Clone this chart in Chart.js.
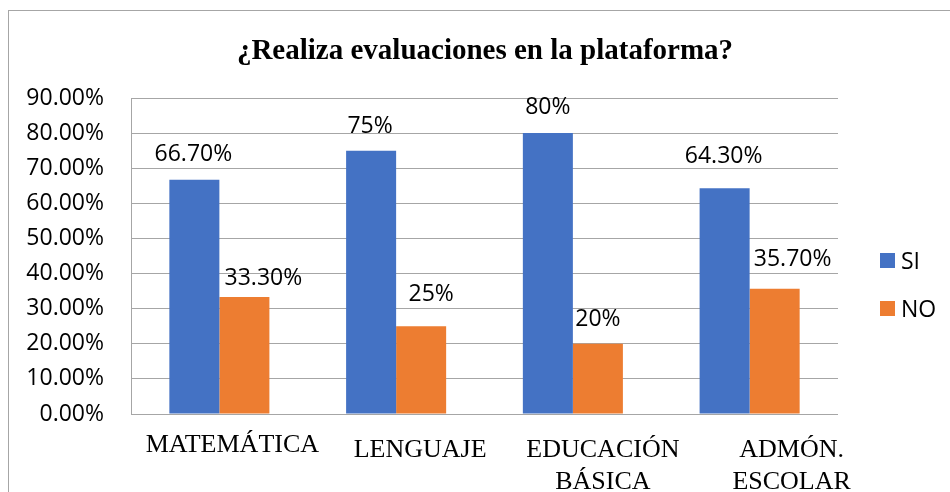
<!DOCTYPE html>
<html>
<head>
<meta charset="utf-8">
<script src="https://cdn.jsdelivr.net/npm/chart.js"></script>
<style>
  html, body { margin: 0; padding: 0; background: #fff; overflow: hidden; }
  #wrap { position: relative; width: 950px; height: 492px; overflow: hidden; }
  #frame { position: absolute; left: 8px; top: 10px; width: 1000px; height: 600px; border: 1px solid #a6a6a6; }
  canvas { position: absolute; left: 0; top: 0; }
</style>
</head>
<body>
<div id="wrap">
  <div id="frame"></div>
  <canvas id="myChart" width="950" height="492"></canvas>
</div>
<script>
let chartTitle = '¿Realiza evaluaciones en la plataforma?'
let categories = [['MATEMÁTICA'], ['LENGUAJE'], ['EDUCACIÓN', 'BÁSICA'], ['ADMÓN.', 'ESCOLAR']]
let seriesNames = ['SI', 'NO']
let siValues = [66.7, 75, 80, 64.3]
let noValues = [33.3, 25, 20, 35.7]
let yTicks = [0, 10, 20, 30, 40, 50, 60, 70, 80, 90]
let colors = ['#4472C4', '#ED7D31']

// label nudges as in the original (x shift, baseline gap above bar)
const labelNudge = [
    [[-1, 19], [-1, 18], [0, 19], [-1, 25]],
    [[19, 12], [10, 25], [0, 18], [18, 23]]
]
const catShift = [13, 24, 30, 42]
const catBase = [38, 43, 43, 43]

function fmt(v) {
    return Number.isInteger(v) ? v + '%' : v.toFixed(2) + '%'
}

const decor = {
    id: 'decor',
    afterDraw(chart) {
        const ctx = chart.ctx, area = chart.chartArea, xs = chart.scales.x
        ctx.save()
        ctx.fillStyle = '#000'
        ctx.textAlign = 'center'
        ctx.textBaseline = 'alphabetic'
        // title
        ctx.font = 'bold 29px "Liberation Serif"'
        ctx.fillText(chartTitle, 485, 59)
        // value labels
        ctx.font = '23px "Open Sans"'
        chart.data.datasets.forEach((ds, d) => {
            chart.getDatasetMeta(d).data.forEach((bar, i) => {
                let n = labelNudge[d][i]
                ctx.fillText(fmt(ds.data[i]), bar.x + n[0], bar.y - n[1])
            })
        })
        // category labels
        ctx.font = '26px "Liberation Serif"'
        categories.forEach((lines, i) => {
            let cx = xs.getPixelForValue(i) + catShift[i]
            lines.forEach((t, j) => ctx.fillText(t, cx, area.bottom + catBase[i] + j * 31.5))
        })
        // legend
        ctx.textAlign = 'left'
        ctx.font = '23px "Open Sans"'
        chart.data.datasets.forEach((ds, d) => {
            let bx = area.right + 42, by = 253 + d * 48
            ctx.fillStyle = ds.backgroundColor
            ctx.fillRect(bx, by, 15, 15)
            ctx.fillStyle = '#000'
            ctx.fillText(ds.label, bx + 21, by + 15.5)
        })
        ctx.restore()
    }
}

new Chart(document.querySelector('#myChart'), {
    type: 'bar',
    data: {
        labels: categories.map(c => c.join(' ')),
        datasets: [
            { label: seriesNames[0], data: siValues, backgroundColor: colors[0] },
            { label: seriesNames[1], data: noValues, backgroundColor: colors[1] }
        ]
    },
    options: {
        responsive: false,
        animation: false,
        devicePixelRatio: 1,
        layout: { padding: { left: 0, right: 112, top: 98, bottom: 78 } },
        datasets: { bar: { categoryPercentage: 0.566, barPercentage: 1 } },
        plugins: {
            legend: { display: false },
            title: { display: false },
            tooltip: { enabled: false }
        },
        scales: {
            x: {
                ticks: { display: false },
                grid: { display: false, drawTicks: false },
                border: { display: false }
            },
            y: {
                min: yTicks[0],
                max: yTicks[yTicks.length - 1],
                afterFit(scale) { scale.width = 131 },
                afterBuildTicks(scale) { scale.ticks = yTicks.map(v => ({ value: v })) },
                ticks: {
                    padding: 27,
                    color: '#000',
                    font: { family: 'Open Sans', size: 23 },
                    callback: v => v.toFixed(2) + '%'
                },
                grid: { color: '#a6a6a6', lineWidth: 1, drawTicks: false },
                border: { display: true, color: '#a6a6a6' }
            }
        }
    },
    plugins: [decor]
})
</script>
</body>
</html>
